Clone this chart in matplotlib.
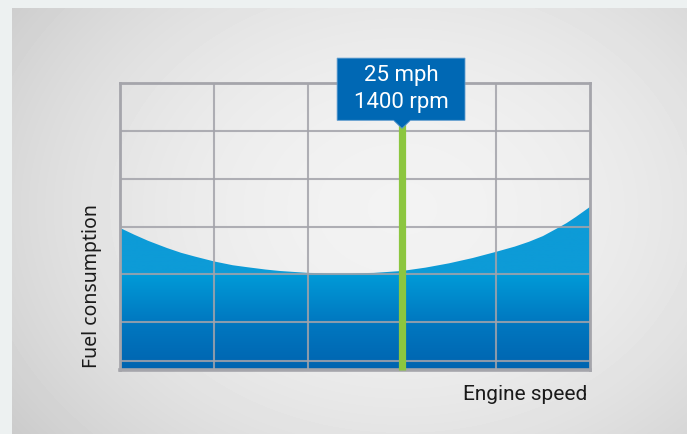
import numpy as np
import matplotlib
matplotlib.use("Agg")
import matplotlib.pyplot as plt
from matplotlib.patches import Polygon
from matplotlib.colors import LinearSegmentedColormap

# engine speed (grid columns) vs fuel consumption (grid rows)
speed = [0.0, 0.15, 0.3, 0.5, 0.65, 0.8, 1.0, 1.2, 1.35, 1.55, 1.7, 1.85, 2.0,
         2.25, 2.45, 2.7, 3.0, 3.25, 3.5, 3.75, 4.0, 4.2, 4.35, 4.5, 4.65, 4.75,
         4.85, 5.0]
fuel = [2.97, 2.83, 2.70, 2.55, 2.45, 2.37, 2.27, 2.19, 2.15, 2.10, 2.07, 2.05, 2.03,
        2.02, 2.02, 2.03, 2.07, 2.14, 2.23, 2.34, 2.47, 2.58, 2.68, 2.80, 2.96, 3.07,
        3.20, 3.41]

marker_speed = 3.0
marker_top = 5.2
marker_lines = ["25 mph", "1400 rpm"]

x_grid = [1, 2, 3, 4]
y_grid = [0.19, 1, 2, 3, 4, 5]

W, H = 687, 434
fig = plt.figure(figsize=(W / 100, H / 100), dpi=100)
fig.patch.set_facecolor("#edf1f1")

# grey panel with soft radial light
bg = fig.add_axes([12 / W, 0, 1 - 12 / W, 1 - 8 / H])
bg.set_axis_off()
yy, xx = np.mgrid[0:426, 0:675]
r = np.hypot((xx - 390) / 430, (yy - 200) / 330)
shade = 0.95 - 0.12 * r ** 2
bg.imshow(shade, cmap="gray", vmin=0, vmax=1, aspect="auto", interpolation="bilinear")

ax = fig.add_axes([120 / W, (H - 370) / H, 470 / W, 287 / H])
ax.patch.set_alpha(0)
ax.set_xlim(0, 5)
ax.set_ylim(0, 6)

# gradient fill under the curve (dark at the bottom, flat above row 2)
poly = ax.fill_between(speed, fuel, 0, color="none", lw=0)
cmap = LinearSegmentedColormap.from_list(
    "fuel", [(0, "#0064b0"), (1 / 6, "#0078c0"), (2 / 6, "#009bd8"),
             (2.02 / 6, "#0d9bd7"), (1, "#0d9bd7")]
)
grad = np.linspace(0, 1, 600).reshape(-1, 1)
img = ax.imshow(grad, cmap=cmap, vmin=0, vmax=1, origin="lower",
                extent=[0, 5, 0, 6], aspect="auto", zorder=1)
img.set_clip_path(poly.get_paths()[0], transform=ax.transData)

for x in x_grid:
    ax.axvline(x, color="#a3a3aa", lw=1.5, alpha=0.85, zorder=2)
for y in y_grid:
    ax.axhline(y, color="#a3a3aa", lw=1.5, alpha=0.85, zorder=2)

for side, s in ax.spines.items():
    s.set_color("#a5a5ab")
    s.set_linewidth(2.0)
    s.set_zorder(3)
ax.spines["bottom"].set_linewidth(2.6)
ax.set_xticks([])
ax.set_yticks([])

# marker line and label box
ax.plot([marker_speed, marker_speed], [0, marker_top], color="#8cc63f", lw=5.2,
        solid_capstyle="butt", zorder=4, clip_on=False)
bx0, bx1 = marker_speed - 0.69, marker_speed + 0.67
by0, by1 = 5.22, 6.52
box = Polygon([(bx0, by0), (marker_speed - 0.09, by0), (marker_speed, by0 - 0.17),
               (marker_speed + 0.09, by0), (bx1, by0), (bx1, by1), (bx0, by1)],
              closed=True, facecolor="#0068b4", edgecolor="#5e9bcf", lw=0.6,
              zorder=5, clip_on=False)
ax.add_patch(box)
ax.text((bx0 + bx1) / 2, by0 + 0.94, marker_lines[0], color="white", fontsize=16,
        family="Roboto", ha="center", va="center", zorder=6)
ax.text((bx0 + bx1) / 2, by0 + 0.38, marker_lines[1], color="white", fontsize=16,
        family="Roboto", ha="center", va="center", zorder=6)

fig.text(587 / W, 1 - 395 / H, "Engine speed", ha="right", va="center",
         fontsize=15, family="Roboto", color="#1a1a1a")
fig.text(92 / W, 1 - 368 / H, "Fuel consumption", ha="center", va="bottom",
         rotation=90, fontsize=14, family="Noto Sans", color="#1a1a1a")

fig.savefig("out.png", dpi=100)
